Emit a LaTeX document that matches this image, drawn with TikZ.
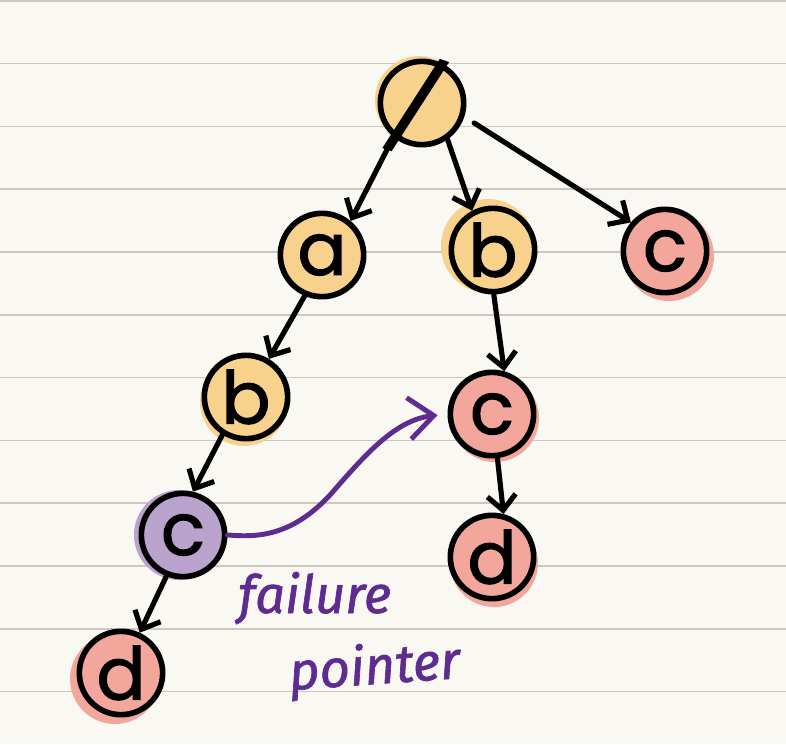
\documentclass[tikz,border=0pt]{standalone}
\usepackage{fontspec}
\setmainfont{Poppins}
\newfontfamily\nodefont{Poppins}[FakeBold=1.6]
\newfontfamily\handfont{Fira Sans}[ItalicFeatures={FakeBold=1.2}]
\usetikzlibrary{arrows.meta}
\definecolor{paper}{HTML}{FAF8F2}
\definecolor{ruleline}{HTML}{CCC8C0}
\definecolor{yelfill}{HTML}{F8D18D}
\definecolor{rosefill}{HTML}{F3A79C}
\definecolor{purpfill}{HTML}{B9A2CC}
\definecolor{inkpurple}{HTML}{5E2C91}
\begin{document}
\begin{tikzpicture}[x=0.03cm,y=-0.03cm,
  tn/.style={circle, draw=black, line width=4.8pt, minimum size=2.5cm, inner sep=0pt,
    font=\nodefont\fontsize{62}{62}\selectfont},
  edge/.style={line width=4.4pt, line cap=round, line join=round,
    -{Straight Barb[length=0.45cm,width=0.85cm]}},
  failedge/.style={draw=inkpurple, line width=4.2pt, line cap=round, line join=round,
    -{Straight Barb[length=0.75cm,width=1.25cm]}},
  handtext/.style={text=inkpurple, font=\handfont\itshape\fontsize{45}{45}\selectfont, inner sep=0pt}]
\useasboundingbox (0,0) rectangle (786,744);
\fill[paper] (0,0) rectangle (786,744);
\foreach \k in {0,...,11}
  \draw[ruleline, line width=1.4pt] (0,{0.8+62.8*\k}) -- (786,{0.8+62.8*\k});
% highlight blobs
\fill[yelfill] (419,100) circle (44);
\fill[yelfill] (321,255) circle (42);
\fill[yelfill] (488,246) circle (47);
\fill[rosefill] (669,256) circle (45);
\fill[yelfill] (244,402) circle (44);
\fill[rosefill] (495,418) circle (44);
\fill[purpfill] (179,535) circle (45);
\fill[rosefill] (494,563) circle (44);
\fill[rosefill] (115,679) circle (45);
% nodes
\node[tn, fill=yelfill,
  label={[rotate=-19, inner sep=0pt, xshift=-0.15cm, yshift=-0.12cm,
          font=\nodefont\fontsize{78}{78}\selectfont]center:/}] (root) at (422,103) {};
\node[tn, fill=yelfill] (a) at (322,255) {a};
\node[tn, fill=yelfill] (bm) at (493,250) {b};
\node[tn, fill=rosefill] (cr) at (665,251) {c};
\node[tn, fill=yelfill] (bl) at (246,397) {b};
\node[tn, fill=rosefill] (cm) at (492,414) {c};
\node[tn, fill=purpfill] (cp) at (183,535) {c};
\node[tn, fill=rosefill] (dm) at (492,557) {d};
\node[tn, fill=rosefill] (dl) at (121,673) {d};
% edges
\draw[edge] (root.230) -- (a.50);
\draw[edge] (root.-55) -- (bm.118);
\draw[edge, shorten <=0.35cm] (root.-18) -- (cr.140);
\draw[edge] (a.247) -- (bl.59);
\draw[edge] (bm.-89) -- (cm.74);
\draw[edge] (bl.238) -- (cp.77);
\draw[edge] (cm.-83) -- (dm.75);
\draw[edge] (cp.248) -- (dl.65);
% failure pointer
\draw[failedge, shorten >=0.3cm] (cp.east) .. controls (255,537) and (290,538) .. (330,495)
   .. controls (365,455) and (395,420) .. (cm.west);
\node[handtext, anchor=base west] (fail) at (238,613) {failure};
\node[handtext, anchor=base west, rotate=4] (ptr) at (290,690) {pointer};
\end{tikzpicture}
\end{document}
